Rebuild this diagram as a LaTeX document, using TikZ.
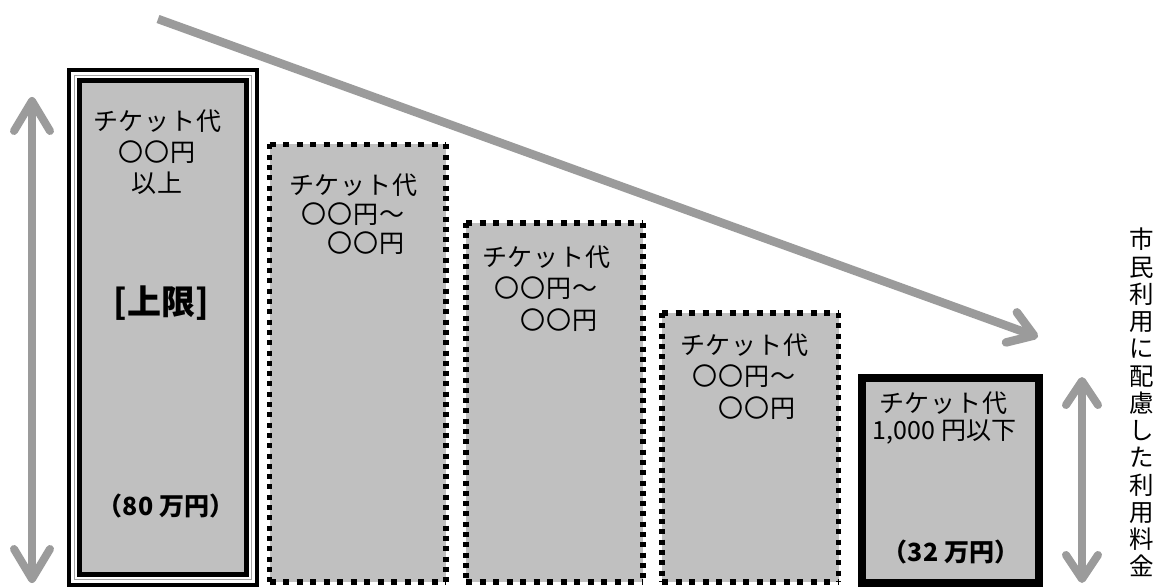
\documentclass[tikz,border=0pt]{standalone}
\usepackage{fontspec}
\setmainfont{Noto Sans CJK JP}
\newfontfamily\jpsp{Noto Sans CJK JP}[LetterSpace=3]
\usetikzlibrary{arrows.meta}
\definecolor{boxgray}{RGB}{192,192,192}
\definecolor{arrowgray}{RGB}{155,155,155}
\definecolor{linegray}{RGB}{165,165,165}
\tikzset{
  bigbarb/.tip={Straight Barb[round, length=30pt, width=36pt]},
  smallbarb/.tip={Straight Barb[round, length=24pt, width=32pt]}
}
\begin{document}
\begin{tikzpicture}[x=1pt,y=-1pt,
  box/.style={rectangle, inner sep=0pt, outer sep=0pt, fill=boxgray},
  hdots/.style={line width=5.5pt, dash pattern=on 6pt off 7.5pt},
  vdots/.style={line width=5.5pt, dash pattern=on 5pt off 5.3pt},
  bigarrow/.style={draw=arrowgray, line width=8pt},
  txt/.style={font=\jpsp\fontsize{25}{31}\selectfont, align=center, inner sep=0pt},
  txtb/.style={font=\fontsize{25}{28}\selectfont\bfseries, align=center, inner sep=0pt},
  vtxt/.style={font=\fontsize{24.5}{27.25}\selectfont, align=center, inner sep=0pt}
]
\useasboundingbox[fill=white] (0,0) rectangle (1162,588);

% ---------- box 1 (triple border) ----------
\node[box, draw=black, line width=4.5pt, minimum width=167pt, minimum height=494pt] (b1) at (163,327.5) {};
\draw[linegray, line width=1.5pt] ([shift={(-5,-5)}]b1.north west) rectangle ([shift={(5,5)}]b1.south east);
\draw[black, line width=4pt] ([shift={(-10.5,-10.5)}]b1.north west) rectangle ([shift={(10.5,10.5)}]b1.south east);

% ---------- box 2..4 (dotted) ----------
\node[box, minimum width=176.5pt, minimum height=437.5pt] (b2) at (357.75,363.25) {};
\node[box, minimum width=177pt, minimum height=359pt] (b3) at (554.5,402.5) {};
\node[box, minimum width=176.5pt, minimum height=269pt] (b4) at (750.25,447.5) {};
\foreach \b in {b2,b3,b4}{
  \draw[hdots] (\b.north west) -- (\b.north east);
  \draw[hdots] (\b.south west) -- (\b.south east);
  \draw[vdots] (\b.north west) -- (\b.south west);
  \draw[vdots] (\b.north east) -- (\b.south east);
}

% ---------- box 5 (thick) ----------
\node[box, draw=black, line width=8pt, minimum width=177pt, minimum height=205.5pt] (b5) at (950.5,480.25) {};

% ---------- texts ----------
\node[txt] (t1) at (157,152) {チケット代\\〇〇円\\以上};
\node[font=\fontsize{34}{40}\selectfont\bfseries, inner sep=0pt] (t1b) at (161,303) {[上限]};
\node[txtb] (t1c) at (166,506) {（80 万円）};

\node[txt, font=\jpsp\fontsize{25}{29}\selectfont] (t2) at (353,214) {チケット代\\〇〇円～\\　〇〇円};
\node[txt, font=\jpsp\fontsize{25}{31.5}\selectfont] (t3) at (546,288.5) {チケット代\\〇〇円～\\　〇〇円};
\node[txt, font=\jpsp\fontsize{25}{31.5}\selectfont] (t4) at (744,376.5) {チケット代\\〇〇円～\\　〇〇円};

\node[txt] (t5) at (943,403) {チケット代};
\node[font=\fontsize{25}{29}\selectfont, inner sep=0pt] (t5b) at (944.5,432) {1,000 円以下};
\node[txtb] (t5c) at (951,552) {（32 万円）};

\node[vtxt] (vt) at (1142,402.5) {市\\民\\利\\用\\に\\配\\慮\\し\\た\\利\\用\\料\\金};

% ---------- arrows ----------
\coordinate (la1) at (32,97);
\coordinate (la2) at (32,583);
\draw[bigarrow, arrows={bigbarb-bigbarb}] (la1) -- (la2);

\coordinate (ra1) at (1082,377);
\coordinate (ra2) at (1082,583);
\draw[bigarrow, arrows={smallbarb-smallbarb}] (ra1) -- (ra2);

\coordinate (da1) at (158,19);
\coordinate (da2) at (1038,337);
\draw[bigarrow, line width=8.5pt, arrows={-smallbarb}] (da1) -- (da2);
\end{tikzpicture}
\end{document}
